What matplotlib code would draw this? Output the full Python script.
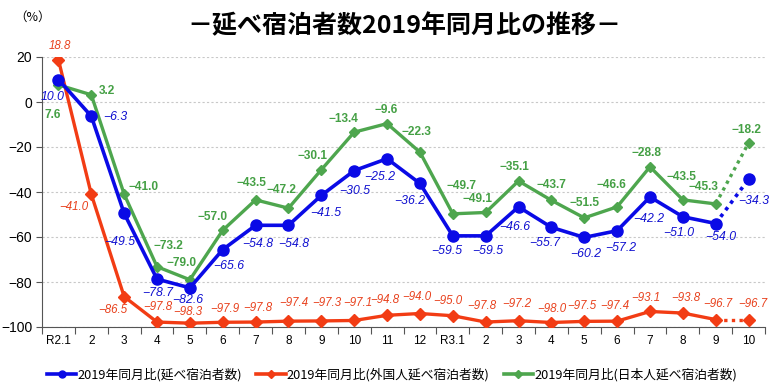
import matplotlib
matplotlib.use("Agg")
import matplotlib.pyplot as plt
from matplotlib.lines import Line2D
import numpy as np

months = ["R2.1", "2", "3", "4", "5", "6", "7", "8", "9", "10", "11", "12",
          "R3.1", "2", "3", "4", "5", "6", "7", "8", "9", "10"]
total = [10.0, -6.3, -49.5, -78.7, -82.6, -65.6, -54.8, -54.8, -41.5, -30.5, -25.2, -36.2,
         -59.5, -59.5, -46.6, -55.7, -60.2, -57.2, -42.2, -51.0, -54.0, -34.3]
foreign = [18.8, -41.0, -86.5, -97.8, -98.3, -97.9, -97.8, -97.4, -97.3, -97.1, -94.8, -94.0,
           -95.0, -97.8, -97.2, -98.0, -97.5, -97.4, -93.1, -93.8, -96.7, -96.7]
japanese = [7.6, 3.2, -41.0, -73.2, -79.0, -57.0, -43.5, -47.2, -30.1, -13.4, -9.6, -22.3,
            -49.7, -49.1, -35.1, -43.7, -51.5, -46.6, -28.8, -43.5, -45.3, -18.2]
yticks = [20, 0, -20, -40, -60, -80, -100]
series_names = ["2019年同月比(延べ宿泊者数)", "2019年同月比(外国人延べ宿泊者数)",
                "2019年同月比(日本人延べ宿泊者数)"]
title = "－延べ宿泊者数2019年同月比の推移－"

# label offsets in pixels (dx, dy)
off_total = [(-6, -18), (24, -1), (-4, -29), (1, -14), (-2, -12), (6, -16), (2, -19), (5, -19),
             (4, -18), (1, -20), (-7, -18), (-10, -18), (-6, -15), (2, -15), (-4, -20), (-7, -16),
             (2, -17), (4, -17), (-1, -22), (-4, -16), (5, -13), (5, -22)]
off_foreign = [(1, 14), (-17, -13), (-11, -13), (1, 15), (-2, 11), (2, 13), (2, 14), (5, 18),
               (5, 18), (4, 17), (-2, 15), (-3, 17), (-5, 15), (-4, 16), (-2, 17), (0, 13),
               (-2, 15), (-2, 15), (-4, 13), (3, 15), (2, 16), (4, 16)]
off_japan = [(-6, -30), (16, 4), (19, 7), (11, 21), (-8, 17), (-10, 13), (-4, 17), (-7, 18),
             (-9, 14), (-11, 13), (-1, 14), (-3, 20), (9, 28), (-8, 13), (-4, 14), (0, 15),
             (0, 15), (-6, 22), (-3, 14), (-1, 23), (-12, 17), (-2, 13)]

C_BLUE = "#0a0ae6"
C_RED = "#f23c14"
C_GREEN = "#4ea64e"
L_BLUE = "#1010d0"
L_RED = "#e8401c"
L_GREEN = "#45a045"
NUM_FONT = ['Liberation Sans', 'DejaVu Sans']
JP_FONT = ['Noto Sans CJK JP', 'DejaVu Sans']

plt.rcParams['font.family'] = ['Liberation Sans', 'Noto Sans CJK JP', 'DejaVu Sans']

fig = plt.figure(figsize=(7.84, 3.87), dpi=100)
ax = fig.add_axes([42 / 784, 1 - 327 / 387, (765 - 42) / 784, (327 - 57) / 387])

x = np.arange(len(months))
n = len(months)

def draw(vals, color, marker, ms, lw, z):
    ax.plot(x[:n - 1], vals[:n - 1], color=color, lw=lw, zorder=z, solid_joinstyle='round')
    ax.plot(x[n - 2:], vals[n - 2:], color=color, lw=lw, ls=(0, (1, 1.3)), zorder=z)
    ax.plot(x, vals, ls='none', marker=marker, ms=ms, color=color, mec=color, zorder=z + 0.5)

draw(foreign, C_RED, 'D', 6.2, 2.4, 3)
draw(japanese, C_GREEN, 'D', 5.2, 2.4, 4)
draw(total, C_BLUE, 'o', 8, 2.6, 5)

def labels(vals, offs, color, style, weight, size):
    for xi, v, (dx, dy) in zip(x, vals, offs):
        s = f"{v:.1f}".replace("-", "\u2212")
        ax.annotate(s, (xi, v), xytext=(dx, dy), textcoords='offset pixels',
                    ha='center', va='center', color=color, fontsize=size,
                    fontstyle=style, fontweight=weight, family=NUM_FONT,
                    annotation_clip=False, zorder=10)

labels(total, off_total, L_BLUE, 'italic', 'normal', 8.8)
labels(foreign, off_foreign, L_RED, 'italic', 'normal', 8.3)
labels(japanese, off_japan, L_GREEN, 'normal', 'bold', 8.6)

ax.set_xlim(-0.5, n - 0.5)
ax.set_ylim(-100, 20)
ax.set_yticks(yticks)
ax.set_yticklabels([str(t).replace("-", "\u2212") for t in yticks], fontsize=10)
ax.set_xticks(np.arange(n + 1) - 0.5)
ax.set_xticklabels([])
ax.set_xticks(x, minor=True)
ax.set_xticklabels(months, minor=True, fontsize=8.5, family=NUM_FONT)
ax.tick_params(axis='x', which='minor', length=0, pad=6)
ax.tick_params(axis='x', which='major', length=5, direction='out', color='#555555')
ax.tick_params(axis='y', length=4, direction='out', color='#555555', pad=3)
ax.grid(axis='y', ls=(0, (2, 2)), color='#c8c8c8', lw=0.8)
ax.set_axisbelow(True)
for sp in ['top', 'right']:
    ax.spines[sp].set_visible(False)
ax.spines['left'].set_color('#555555')
ax.spines['bottom'].set_color('#555555')

fig.text(33 / 784, 1 - 17 / 387, "（%）", fontsize=9, ha='center', va='center', family=JP_FONT)
fig.text(404 / 784, 1 - 26 / 387, title, fontsize=18, fontweight='bold', ha='center',
         va='center', family=JP_FONT)

handles = [Line2D([], [], color=C_BLUE, lw=2.6, marker='o', ms=5),
           Line2D([], [], color=C_RED, lw=2.6, marker='D', ms=4),
           Line2D([], [], color=C_GREEN, lw=2.6, marker='D', ms=4)]
fig.legend(handles, series_names, loc='center', bbox_to_anchor=(0.5, 1 - 375 / 387),
           ncol=3, frameon=False, prop={'family': JP_FONT, 'size': 9.2},
           handlelength=2.3, handletextpad=0.1, columnspacing=1.1)

fig.savefig("out.png", dpi=100)
